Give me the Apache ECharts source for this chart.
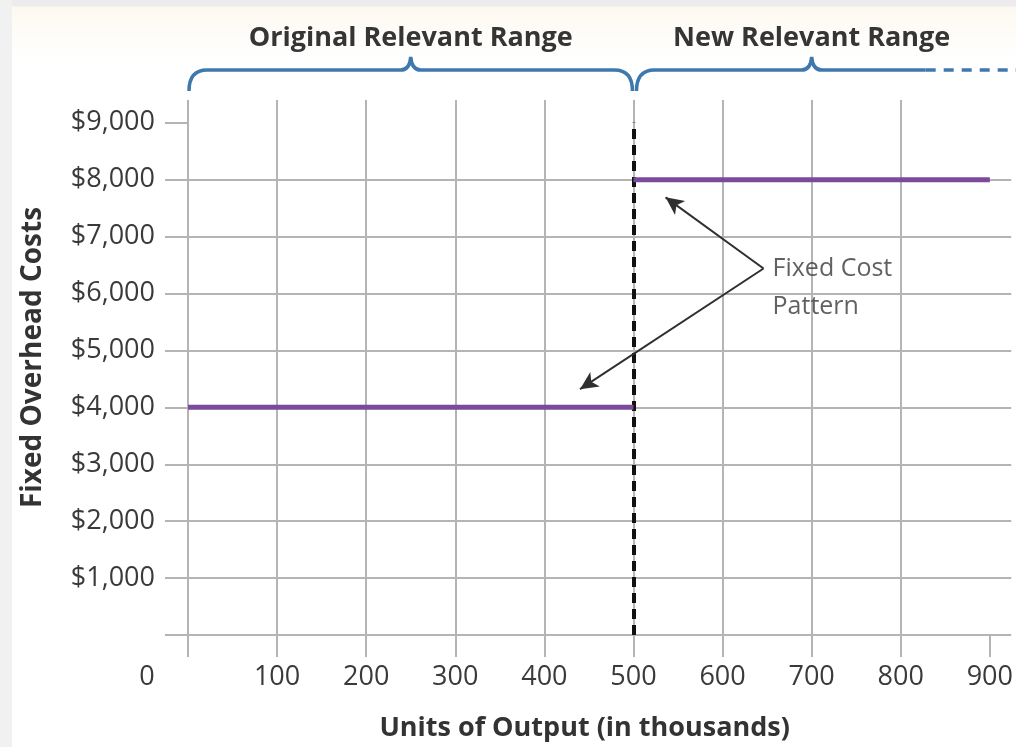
<!DOCTYPE html>
<html>
<head>
<meta charset="utf-8">
<script src="https://cdn.jsdelivr.net/npm/echarts@6/dist/echarts.min.js"></script>
<style>
  html, body { margin: 0; padding: 0; background: #ffffff; }
  #main {
    width: 1016px; height: 747px;
    background:
      linear-gradient(to right, #f1f1f1 0, #f1f1f1 12px, transparent 12px),
      linear-gradient(to bottom, #ececec 0, #ececec 6px, #fdf9f1 7px, #ffffff 60px);
  }
</style>
</head>
<body>
<div id="main"></div>
<script>
// ---- data ----
const xTicks = [0, 100, 200, 300, 400, 500, 600, 700, 800, 900];
const yTicks = [0, 1000, 2000, 3000, 4000, 5000, 6000, 7000, 8000, 9000];
const xMax = 924;                       // visible end of the units axis
const yMax = 9400;
const originalRangeX = [0, 500];
const originalCost = [4000, 4000];
const newRangeX = [500, 900];
const newCost = [8000, 8000];
const capacityStepX = 500;              // dashed step line
const stepLineY = [0, 9000];
const arrowVertex = [646, 6440];        // where the two arrows meet
const arrowTips = [[536, 7690], [440, 4320]];
const calloutText = ['Fixed Cost', 'Pattern'];
const rangeLabels = ['Original Relevant Range', 'New Relevant Range'];
const braceStart = [0, 500];
const braceEnd = [500, 900];
const braceSolidEnd = [500, 828];       // where the brace turns dashed

const FONT = '"Open Sans", "Noto Sans", sans-serif';
const GRID_GRAY = '#b4b4b4';
const TEXT = '#3a3a3a';

const chart = echarts.init(document.getElementById('main'), null, { renderer: 'canvas' });

const braceData = braceStart.map((s, i) => [s, braceEnd[i], braceSolidEnd[i], i]);

function renderBrace(params, api) {
  const s = api.value(0), e = api.value(1), se = api.value(2), idx = api.value(3);
  const yTop = api.coord([0, yMax])[1];
  const xa = api.coord([s, 0])[0] + (idx === 0 ? 1 : 3);
  const xb = api.coord([e, 0])[0] - (idx === 0 ? 1 : 0);
  const xs = api.coord([se, 0])[0];
  const xm = (api.coord([s, 0])[0] + api.coord([e, 0])[0]) / 2;
  const yb = yTop - 9, yh = yTop - 30, yt = yTop - 43;
  const r = 18, r2 = 10;
  const children = [];
  let d = `M${xa},${yb} Q${xa},${yh} ${xa + r},${yh} L${xm - r2},${yh} Q${xm - 1},${yh} ${xm},${yt} Q${xm + 1},${yh} ${xm + r2},${yh}`;
  if (se >= e) {
    d += ` L${xb - r},${yh} Q${xb},${yh} ${xb},${yb}`;
  } else {
    d += ` L${xs},${yh}`;
    children.push({
      type: 'line',
      shape: { x1: xs, y1: yh, x2: api.coord([1000, 0])[0], y2: yh },
      style: { stroke: '#3f78ad', lineWidth: 3.5, lineDash: [10, 8] }
    });
  }
  children.push({
    type: 'path',
    shape: { pathData: d },
    style: { stroke: '#3f78ad', lineWidth: 3.5, fill: null }
  });
  children.push({
    type: 'text',
    style: {
      text: rangeLabels[idx], x: xm, y: yTop - 62,
      align: 'center', verticalAlign: 'middle',
      font: 'bold 27px ' + FONT, fill: '#353535'
    }
  });
  return { type: 'group', children };
}

const option = {
  animation: false,
  grid: { left: 188, top: 100, bottom: 112, right: 0, containLabel: false },
  xAxis: {
    type: 'value', min: 0, max: xMax, interval: 100,
    axisLine: { show: false },
    axisTick: { show: true, length: 22, customValues: xTicks, lineStyle: { color: GRID_GRAY, width: 2 } },
    splitLine: { show: true, showMaxLine: false, lineStyle: { color: GRID_GRAY, width: 2 } },
    axisLabel: {
      margin: 29, color: TEXT, fontSize: 27, fontFamily: FONT,
      customValues: xTicks,
      formatter: v => (v === 0 ? '{z|0}' : String(v)),
      rich: { z: { padding: [0, 82, 0, 0], fontSize: 27, fontFamily: FONT, color: TEXT } }
    },
    name: 'Units of Output (in thousands)',
    nameLocation: 'middle', nameGap: 80,
    nameTextStyle: { fontWeight: 'bold', fontSize: 27, fontFamily: FONT, color: '#333', padding: [0, 30, 0, 0] }
  },
  yAxis: {
    type: 'value', min: 0, max: yMax, interval: 1000,
    axisLine: { show: false },
    axisTick: { show: true, length: 23, customValues: yTicks, lineStyle: { color: GRID_GRAY, width: 2 } },
    splitLine: { show: true, showMaxLine: false, lineStyle: { color: GRID_GRAY, width: 2 } },
    axisLabel: {
      margin: 33, color: TEXT, fontSize: 27, fontFamily: FONT,
      customValues: yTicks.slice(1),
      formatter: v => (v === 0 ? '' : '$' + v.toLocaleString('en-US'))
    },
    name: 'Fixed Overhead Costs',
    nameLocation: 'middle', nameGap: 141,
    nameTextStyle: { fontWeight: 'bold', fontSize: 28, fontFamily: FONT, color: '#333', padding: [0, 0, 0, 20] }
  },
  series: [
    {
      type: 'line', name: 'original', symbol: 'none',
      data: originalRangeX.map((x, i) => [x, originalCost[i]]),
      lineStyle: { color: '#7b4a9d', width: 5 }, z: 5,
      markLine: {
        silent: true, symbol: ['none', 'none'], label: { show: false },
        lineStyle: { color: '#111', width: 4, type: [10, 6] },
        data: [[{ coord: [capacityStepX, stepLineY[0]] }, { coord: [capacityStepX, stepLineY[1]] }]]
      }
    },
    {
      type: 'line', name: 'new', symbol: 'none',
      data: newRangeX.map((x, i) => [x, newCost[i]]),
      lineStyle: { color: '#7b4a9d', width: 5 }, z: 5,
      markLine: {
        silent: true, symbol: ['none', 'arrow'], symbolSize: [13, 18], label: { show: false },
        lineStyle: { color: '#2f2f2f', width: 2, type: 'solid' },
        data: arrowTips.map(t => [{ coord: arrowVertex }, { coord: t }])
      }
    },
    {
      type: 'scatter', symbolSize: 0, silent: true,
      data: [arrowVertex],
      label: {
        show: true, position: 'right', distance: 9, offset: [0, 19],
        formatter: calloutText.join('\n'),
        fontSize: 25, lineHeight: 38, fontFamily: FONT, color: '#3a3a3a'
      }
    },
    {
      type: 'custom', silent: true, clip: false,
      renderItem: renderBrace,
      data: braceData
    }
  ]
};
chart.setOption(option);
</script>
</body>
</html>
